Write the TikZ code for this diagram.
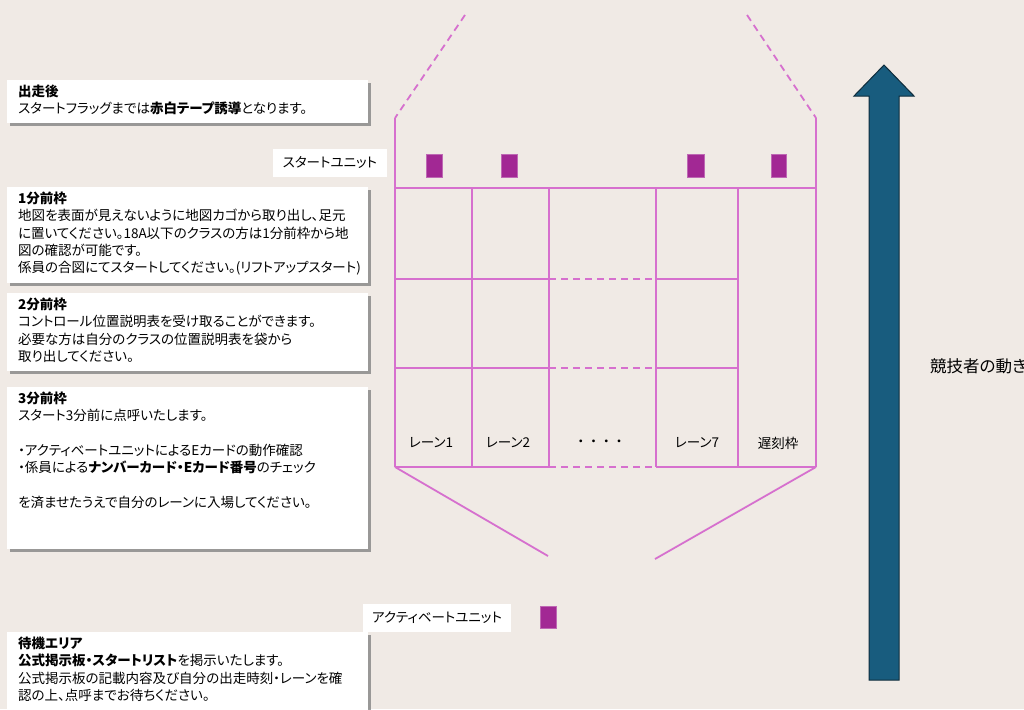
\documentclass[tikz,border=0pt]{standalone}
\usepackage{fontspec}
\setmainfont{Noto Sans CJK JP}[RawFeature=+palt]
\usetikzlibrary{shadows}
\definecolor{bgbeige}{RGB}{240,234,229}
\definecolor{lanepink}{RGB}{214,112,206}
\definecolor{unitpurple}{RGB}{162,40,148}
\definecolor{arrowblue}{RGB}{24,92,126}
\definecolor{arrowdark}{RGB}{14,44,60}
\definecolor{shadowgray}{RGB}{125,125,125}

\begin{document}
\begin{tikzpicture}[x=1pt,y=-1pt,
  panel/.style={fill=white, drop shadow={shadow xshift=2.5pt, shadow yshift=-2.5pt, fill=shadowgray, opacity=0.75}},
  paneltext/.style={anchor=north west, align=left, inner xsep=11pt, inner ysep=4.5pt, font=\fontsize{13.5}{17.4}\selectfont},
  unitlabel/.style={fill=white, inner sep=0pt, font=\fontsize{13.5}{15}\selectfont},
  lane/.style={draw=lanepink, line width=1.8pt},
  lanedash/.style={lane, dash pattern=on 7pt off 5pt},
  unit/.style={fill=unitpurple, draw=unitpurple!70!white, line width=0.6pt},
  lanetext/.style={font=\fontsize{13.5}{15}\selectfont},
  flowarrow/.style={fill=arrowblue, draw=arrowdark, line width=1pt, line join=miter}]
\useasboundingbox (0,0) rectangle (1024,709);
\fill[bgbeige] (0,0) rectangle (1024,709);

\fill[panel] (7,80) rectangle (368,123);
\node[paneltext] (afterstart) at (7,80) {\textbf{出走後}\\スタートフラッグまでは\textbf{赤白テープ誘導}となります。};

\node[unitlabel, minimum width=114pt, minimum height=28pt] (startunitlabel) at (330,163) {スタートユニット};

\fill[panel] (7,187) rectangle (368,283);
\node[paneltext] (minus1) at (7,187) {\textbf{1分前枠}\\地図を表面が見えないように地図カゴから取り出し、足元\\に置いてください。18A以下のクラスの方は1分前枠から地\\図の確認が可能です。\\係員の合図にてスタートしてください。(リフトアップスタート)};

\fill[panel] (7,293) rectangle (368,371);
\node[paneltext] (minus2) at (7,293) {\textbf{2分前枠}\\コントロール位置説明表を受け取ることができます。\\必要な方は自分のクラスの位置説明表を袋から\\取り出してください。};

\fill[panel] (7,387) rectangle (368,549);
\node[paneltext] (minus3) at (7,387) {\textbf{3分前枠}\\スタート3分前に点呼いたします。\\~\\・アクティベートユニットによるEカードの動作確認\\・係員による\textbf{ナンバーカード・Eカード番号}のチェック\\~\\を済ませたうえで自分のレーンに入場してください。};

\node[unitlabel, minimum width=148pt, minimum height=28pt] (activatelabel) at (437,618) {アクティベートユニット};

\fill[panel] (7,632) rectangle (368,720);
\node[paneltext] (waiting) at (7,632) {\textbf{待機エリア}\\\textbf{公式掲示板・スタートリスト}を掲示いたします。\\公式掲示板の記載内容及び自分の出走時刻・レーンを確\\認の上、点呼までお待ちください。};

\draw[lanedash] (465,15) -- (395,118);
\draw[lanedash] (747,15) -- (816,118);
\draw[lane] (395,118) -- (395,467);
\draw[lane] (816,118) -- (816,467);
\draw[lane] (395,188) -- (816,188);
\draw[lane] (472,188) -- (472,467);
\draw[lane] (549,188) -- (549,467);
\draw[lane] (656,188) -- (656,467);
\draw[lane] (738,188) -- (738,467);
\draw[lane] (395,279) -- (549,279);
\draw[lanedash] (549,279) -- (656,279);
\draw[lane] (656,279) -- (738,279);
\draw[lane] (395,368) -- (549,368);
\draw[lanedash] (549,368) -- (656,368);
\draw[lane] (656,368) -- (738,368);
\draw[lane] (395,467) -- (549,467);
\draw[lanedash] (549,467) -- (656,467);
\draw[lane] (656,467) -- (816,467);
\draw[lane] (395,467) -- (548,556);
\draw[lane] (816,467) -- (655,559);

\fill[unit] (426,154) rectangle (442,177);
\fill[unit] (501,154) rectangle (517,177);
\fill[unit] (687,154) rectangle (704,177);
\fill[unit] (771,154) rectangle (786,177);
\fill[unit] (540,606) rectangle (556,628);

\node[lanetext] (lane1) at (431,443) {レーン1};
\node[lanetext] (lane2) at (508,443) {レーン2};
\node[lanetext] (lanedots) at (600,443) {・\hspace{6pt}・\hspace{6pt}・\hspace{6pt}・};
\node[lanetext] (lane7) at (697,443) {レーン7};
\node[lanetext] (latebox) at (778,443) {遅刻枠};

\draw[flowarrow] (869,680) -- (869,96) -- (854,96) -- (884,65) -- (914,96) -- (899,96) -- (899,680) -- cycle;
\node[anchor=west, inner sep=0pt, font=\fontsize{16.5}{19}\selectfont] (motion) at (930,366) {競技者の動き};
\end{tikzpicture}
\end{document}
